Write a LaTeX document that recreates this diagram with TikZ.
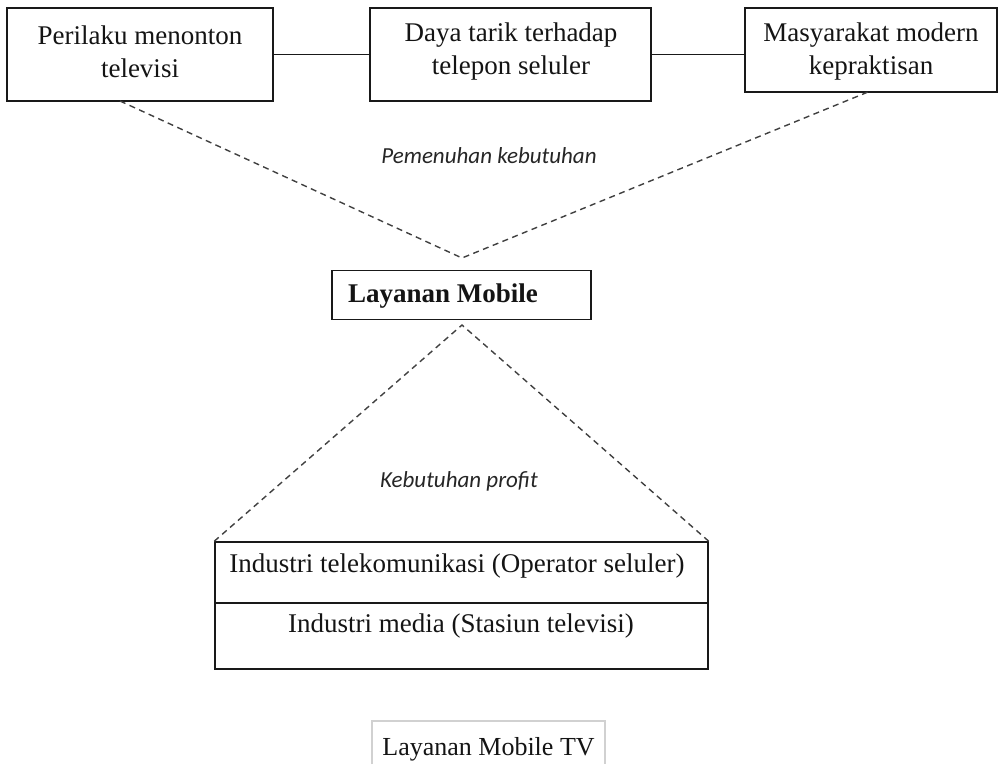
\documentclass[tikz,border=0pt]{standalone}
\usepackage{fontspec}
\setmainfont{Liberation Serif}
\newfontfamily\calib{Carlito}
\begin{document}
\begin{tikzpicture}[x=1pt,y=-1pt,
  boxst/.style={draw=black!90, line width=1.5pt, inner sep=0pt},
  txt/.style={text=black!92, font=\fontsize{27}{33}\selectfont, align=center, inner sep=0pt},
  lbl/.style={text=black!85, font=\calib\itshape\fontsize{23}{28}\selectfont, inner sep=0pt},
  solidline/.style={black!90, line width=1.5pt},
  dashline/.style={black!75, line width=1.4pt, dash pattern=on 6pt off 4.5pt}]
\useasboundingbox (0,0) rectangle (1004,764);
% top boxes
\node[boxst, minimum width=266pt, minimum height=93pt] (b1) at (140,54.5) {};
\node[boxst, minimum width=281pt, minimum height=93pt] (b2) at (510.5,54.5) {};
\node[boxst, minimum width=252pt, minimum height=84pt] (b3) at (871,50) {};
\node[txt] (t1) at (140,52) {Perilaku menonton\\televisi};
\node[txt] (t2) at (511,52) {Daya tarik terhadap\\telepon seluler};
\node[txt] (t3) at (871,52) {Masyarakat modern\\kepraktisan};
\draw[solidline] (b1.east) -- (b2.west);
\draw[solidline] (b2.east) -- (b2.east -| b3.west);
% middle box
\node[boxst, minimum width=259pt, minimum height=49pt] (lm) at (461.5,295) {};
\node[txt, anchor=west, font=\bfseries\fontsize{27}{33}\selectfont] (lmt) at (348,296) {Layanan Mobile};
% dashed upper
\coordinate (p1) at (120,101);
\coordinate (p3) at (868,92);
\coordinate (v1) at (462,258);
\draw[dashline] (p1) -- (v1) -- (p3);
\node[lbl] (l1) at (489,156) {Pemenuhan kebutuhan};
% bottom box
\node[boxst, minimum width=493pt, minimum height=127pt] (bb) at (461.5,605.5) {};
\draw[solidline] (bb.west |- 0,603) coordinate (dl) -- (bb.east |- dl);
\node[txt] (bt1) at (457,566) {Industri telekomunikasi (Operator seluler)};
\node[txt] (bt2) at (461,626) {Industri media (Stasiun televisi)};
% dashed lower
\coordinate (v2) at (462,325);
\draw[dashline] (bb.north west) -- (v2) -- (bb.north east);
\node[lbl] (l2) at (459,481) {Kebutuhan profit};
% caption
\draw[black!18, line width=1.2pt] (372,764) |- (605,721) -- (605,764);
\node[txt, anchor=base, font=\fontsize{26}{30}\selectfont] (cap) at (488.5,755) {Layanan Mobile TV};
\end{tikzpicture}
\end{document}
